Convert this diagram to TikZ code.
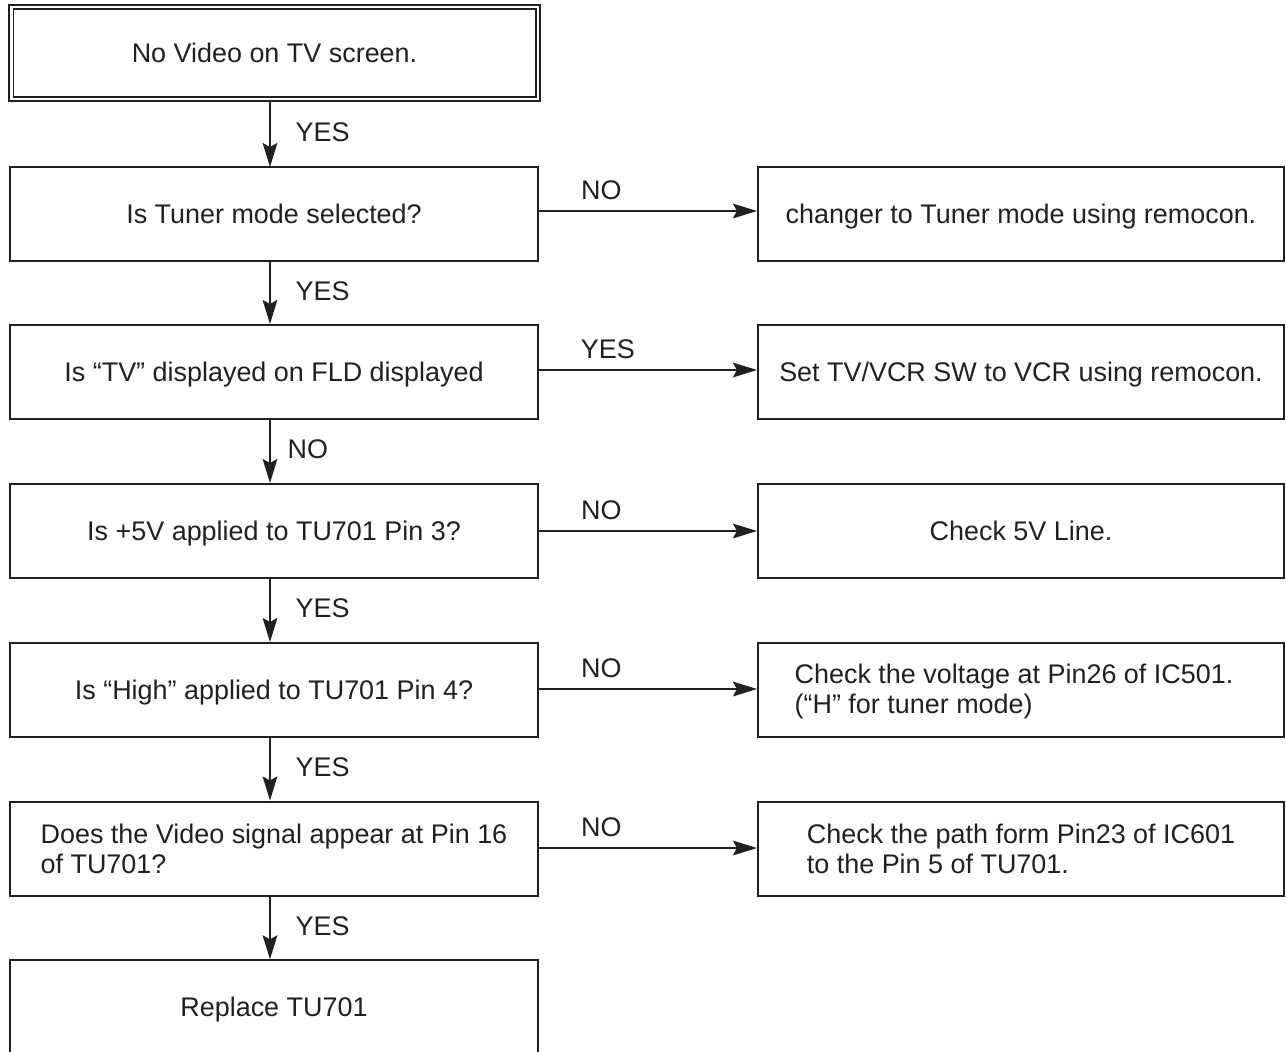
\documentclass[tikz,border=0pt]{standalone}
\usepackage{fontspec}
\setmainfont{Liberation Sans}
\usetikzlibrary{arrows.meta}
\definecolor{ink}{HTML}{231F20}
\begin{document}
\begin{tikzpicture}[x=0.75pt,y=-0.75pt,
  every node/.style={text=ink,font=\fontsize{20.2}{22.5}\selectfont},
  lbox/.style={draw=ink,line width=1.5pt,minimum width=396pt,minimum height=70.5pt,inner sep=0pt,align=left},
  rbox/.style={draw=ink,line width=1.5pt,minimum width=394.5pt,minimum height=70.5pt,inner sep=0pt,align=left},
  flat/.style={text depth=0pt},
  flow/.style={draw=ink,line width=1.5pt,-{Stealth[length=18pt,width=11pt,inset=3pt]}},
  vlab/.style={anchor=base west,inner sep=0pt,xshift=18.5pt,yshift=-5.5pt},
  hlab/.style={anchor=base,inner sep=0pt,yshift=8.3pt}]
\clip (0,0) rectangle (1286,1051);
% top box with double border
\node[lbox,flat,minimum width=392pt,minimum height=66pt,line width=1pt] (q1) at (274.5,53) {No Video on TV screen.};
\draw[ink,line width=1.2pt] (9,5) rectangle (540,101);
\node[lbox,flat] (q2) at (274,214) {Is Tuner mode selected?};
\node[lbox,flat] (q3) at (274,372) {Is “TV” displayed on FLD displayed};
\node[lbox,flat] (q4) at (274,531) {Is +5V applied to TU701 Pin 3?};
\node[lbox,flat] (q5) at (274,690) {Is “High” applied to TU701 Pin 4?};
\node[lbox] (q6) at (274,848.5) {Does the Video signal appear at Pin 16\\of TU701?};
\node[lbox,minimum height=82pt] (q7) at (274,1015) {};
\node[flat] (t7) at (274,1007) {Replace TU701};
\node[rbox,flat] (a2) at (1021,214) {changer to Tuner mode using remocon.};
\node[rbox,flat] (a3) at (1021,372) {Set TV/VCR SW to VCR using remocon.};
\node[rbox,flat] (a4) at (1021,531) {Check 5V Line.};
\node[rbox] (a5) at (1021,690) {};
\node (a5t) at (1014,692) [align=left] {Check the voltage at Pin26 of IC501.\\(“H” for tuner mode)};
\node[rbox] (a6) at (1021,848.5) {Check the path form Pin23 of IC601\\to the Pin 5 of TU701.};
% vertical flow
\draw[flow] (270,101) -- node[vlab]{YES} (270,167);
\draw[flow] (q2.south -| 270,0) -- node[vlab]{YES} (q3.north -| 270,0);
\draw[flow] (q3.south -| 270,0) -- node[vlab,xshift=-6pt]{NO} (q4.north -| 270,0);
\draw[flow] (q4.south -| 270,0) -- node[vlab]{YES} (q5.north -| 270,0);
\draw[flow] (q5.south -| 270,0) -- node[vlab]{YES} (q6.north -| 270,0);
\draw[flow] (q6.south -| 270,0) -- node[vlab]{YES} (q7.north -| 270,0);
% horizontal flow
\draw[flow] (q2.east |- 0,211) -- node[hlab,pos=0.286]{NO} (a2.west |- 0,211);
\draw[flow] (q3.east |- 0,370) -- node[hlab,pos=0.316]{YES} (a3.west |- 0,370);
\draw[flow] (q4.east |- 0,531) -- node[hlab,pos=0.286]{NO} (a4.west |- 0,531);
\draw[flow] (q5.east |- 0,689) -- node[hlab,pos=0.286]{NO} (a5.west |- 0,689);
\draw[flow] (q6.east |- 0,848) -- node[hlab,pos=0.286]{NO} (a6.west |- 0,848);
\end{tikzpicture}
\end{document}
